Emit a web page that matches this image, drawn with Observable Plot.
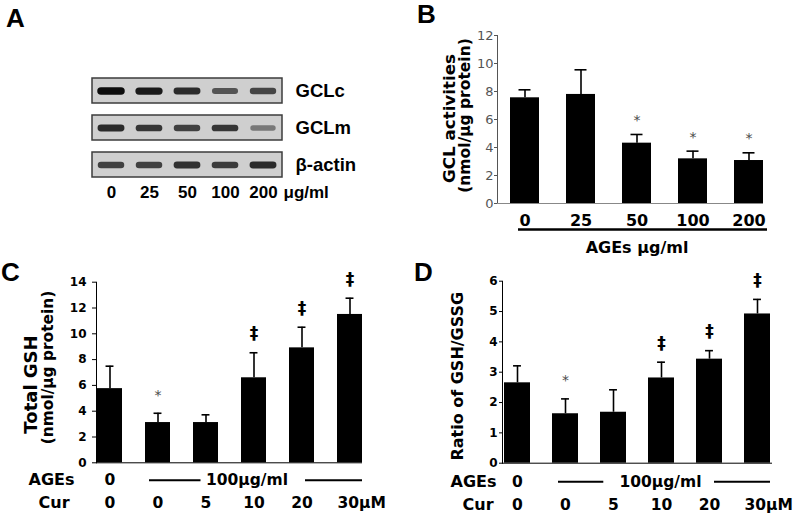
<!DOCTYPE html>
<html><head><meta charset="utf-8">
<script src="https://cdn.jsdelivr.net/npm/d3@7"></script>
<script src="https://cdn.jsdelivr.net/npm/@observablehq/plot@0.6"></script>
<style>
body{margin:0;background:#fff;}
#fig{position:relative;width:800px;height:520px;background:#fff;overflow:hidden;}
.panel{position:absolute;width:400px;height:260px;}
.letter{position:absolute;font:bold 26px "Liberation Sans",Arial,sans-serif;line-height:26px;color:#000;}
</style></head><body>
<div id="fig">
  <div class="panel" id="pA" style="left:0;top:0"></div>
  <div class="panel" id="pB" style="left:400px;top:0"></div>
  <div class="panel" id="pC" style="left:0;top:260px"></div>
  <div class="panel" id="pD" style="left:400px;top:260px"></div>
  <div class="letter" style="left:6px;top:5px">A</div>
  <div class="letter" style="left:417px;top:1px">B</div>
  <div class="letter" style="left:1px;top:259px">C</div>
  <div class="letter" style="left:414px;top:259px">D</div>
</div>
<script>
// ---------- Panel A: western blot ----------
const lanes = ["0", "25", "50", "100", "200"];
const laneUnit = "μg/ml";
const blotRows = ["GCLc", "GCLm", "β-actin"];
const gclcBand = [1.0, 0.95, 0.88, 0.72, 0.78];
const gclmBand = [0.88, 0.84, 0.80, 0.84, 0.58];
const actinBand = [0.80, 0.80, 0.86, 0.82, 0.88];

// ---------- Panel B: GCL activities ----------
const bDoses = ["0", "25", "50", "100", "200"];
const bMean = [7.55, 7.79, 4.31, 3.19, 3.07];
const bSD = [0.57, 1.76, 0.62, 0.55, 0.55];
const bSig = ["", "", "*", "*", "*"];
const bTicks = [0, 2, 4, 6, 8, 10, 12];
const bXLabel = "AGEs μg/ml";
const bYLabel = ["GCL activities", "(nmol/μg protein)"];

// ---------- Panels C, D: groups ----------
const groups = ["ctrl", "ages", "cur5", "cur10", "cur20", "cur30"];
const agesRow = ["0", "100μg/ml"];
const curRow = ["0", "0", "5", "10", "20", "30μM"];
const cMean = [5.75, 3.12, 3.12, 6.59, 8.91, 11.5];
const cSD = [1.74, 0.72, 0.60, 1.94, 1.60, 1.26];
const cSig = ["", "*", "", "‡", "‡", "‡"];
const cTicks = [0, 2, 4, 6, 8, 10, 12, 14];
const cYLabel = ["Total GSH", "(nmol/μg protein)"];
const dMean = [2.65, 1.63, 1.68, 2.81, 3.43, 4.92];
const dSD = [0.56, 0.49, 0.74, 0.52, 0.28, 0.48];
const dSig = ["", "*", "", "‡", "‡", "‡"];
const dTicks = [0, 1, 2, 3, 4, 5, 6];
const dYLabel = "Ratio of GSH/GSSG";

const FONT = "DejaVu Sans, Verdana, sans-serif";
const ARIAL = "Liberation Sans, Arial, sans-serif";

// ---- A ----
const bandData = [];
[gclcBand, gclmBand, actinBand].forEach((arr, r) =>
  arr.forEach((v, i) => bandData.push({lane: lanes[i], row: blotRows[r], v})));
const plotA = Plot.plot({
  width: 400, height: 260,
  marginLeft: 92, marginRight: 118, marginTop: 71.5, marginBottom: 77.5,
  style: {fontFamily: ARIAL, background: "white"},
  x: {domain: lanes, padding: 0, axis: null},
  y: {domain: blotRows, padding: 0, axis: null},
  color: {type: "linear", domain: [0.5, 1], range: ["#8c8c8c", "#0d0d0d"]},
  marks: [
    Plot.cell(blotRows, {y: d => d, fill: "#cfcfcf", stroke: "#3c3c3c", strokeWidth: 1.5, insetTop: 6, insetBottom: 6}),
    Plot.tickY(bandData, {x: "lane", y: "row", stroke: "v", strokeWidth: d => 2.5 + 5 * d.v,
      strokeLinecap: "round", insetLeft: 9, insetRight: 9, ariaLabel: "bands"}),
    Plot.text(blotRows, {y: d => d, text: d => d, frameAnchor: "right", textAnchor: "start", dx: 13,
      fontSize: 18.5, fontWeight: "bold", fill: "#000"}),
    Plot.text(lanes, {x: d => d, text: d => d, frameAnchor: "bottom", lineAnchor: "middle", dy: 9.5,
      fontSize: 17, fontWeight: "bold", fill: "#000"}),
    Plot.text([laneUnit], {x: () => lanes[4], text: d => d, frameAnchor: "bottom", lineAnchor: "middle", dy: 9.5, dx: 20,
      textAnchor: "start", fontSize: 17, fontWeight: "bold", fill: "#000"})
  ]
});
plotA.querySelectorAll('[aria-label="bands"]').forEach(g => g.style.filter = "blur(1.8px)");
document.getElementById("pA").appendChild(plotA);

// ---- shared bar marks ----
function barMarks(rows, capInset, starDy, daggerDy) {
  const top = d => d.mean + d.sd;
  return [
    Plot.barY(rows, {x: "g", y: "mean", fill: "#000"}),
    Plot.ruleX(rows, {x: "g", y1: "mean", y2: top, stroke: "#000", strokeWidth: 1.6}),
    Plot.tickY(rows, {x: "g", y: top, stroke: "#000", strokeWidth: 1.6, insetLeft: capInset, insetRight: capInset}),
    Plot.text(rows.filter(d => d.sig === "*"), {x: "g", y: top, text: "sig", dy: starDy,
      fontSize: 14, fontWeight: "normal", fill: "#4a4a4a"}),
    Plot.text(rows.filter(d => d.sig === "‡"), {x: "g", y: top, text: "sig", dy: daggerDy,
      fontSize: 17, fontWeight: "bold", fill: "#000"})
  ];
}

function yLabel(text, dx, dy, size) {
  return Plot.text([text], {text: d => d, frameAnchor: "left", textAnchor: "middle", lineAnchor: "middle",
    rotate: -90, dx, dy, fontSize: size, fontWeight: "bold", fill: "#000"});
}

// text below the frame, vertically centred on frame bottom + dy
function under(data, opts) {
  return Plot.text(data, {frameAnchor: "bottom", lineAnchor: "middle", fontWeight: "bold", fill: "#000", ...opts});
}

// ---- B ----
const bRows = bDoses.map((g, i) => ({g, mean: bMean[i], sd: bSD[i], sig: bSig[i]}));
const plotB = Plot.plot({
  width: 400, height: 260,
  marginLeft: 97, marginRight: 37, marginTop: 35, marginBottom: 57,
  style: {fontFamily: FONT, fontSize: "13px", color: "#555", background: "white"},
  x: {domain: bDoses, paddingInner: 0.49, paddingOuter: 0.088, align: 1, axis: null},
  y: {domain: [0, 12], ticks: bTicks, tickFormat: d => String(d), tickSize: 3, tickPadding: 1, label: null, line: true},
  marks: [
    ...barMarks(bRows, 8.5, -14, -19),
    Plot.ruleY([0], {stroke: "#888"}),
    under(bDoses, {x: d => d, text: d => d, dy: 17, fontSize: 16}),
    Plot.ruleY([0], {x1: () => bDoses[0], x2: () => bDoses[4], dy: 26, stroke: "#000",
      strokeWidth: 2.5, insetLeft: 8, insetRight: -4}),
    under([bXLabel], {x: () => bDoses[2], text: d => d, dy: 44, fontSize: 16}),
    yLabel(bYLabel[0], -48, -1, 16.7),
    yLabel(bYLabel[1], -32, -4, 15.5)
  ]
});
document.getElementById("pB").appendChild(plotB);

// ---- C & D ----
function groupPanel(el, mean, sd, sig, cfg) {
  const rows = groups.map((g, i) => ({g, mean: mean[i], sd: sd[i], sig: sig[i]}));
  const bw = cfg.bw;
  const p = Plot.plot({
    width: 400, height: 260,
    marginLeft: cfg.ml, marginRight: cfg.mr, marginTop: cfg.mt, marginBottom: cfg.mb,
    style: {fontFamily: FONT, fontSize: "12px", fontWeight: "bold", color: "#000", background: "white"},
    x: {domain: groups, paddingInner: cfg.pi, paddingOuter: 0, axis: null},
    y: {domain: cfg.domain, ticks: cfg.ticks, tickFormat: d => String(d), tickSize: cfg.ts, tickPadding: cfg.tp,
      label: null, line: true},
    marks: [
      ...barMarks(rows, (bw - 8) / 2, -18, -19),
      Plot.ruleY([0], {stroke: "#000"}),
      // AGEs row
      under(["AGEs"], {text: d => d, frameAnchor: "bottom-left", textAnchor: "start", dx: cfg.agesDx, dy: cfg.row1, fontSize: 16}),
      under([agesRow[0]], {x: () => groups[0], text: d => d, dy: cfg.row1, fontSize: 15.5}),
      Plot.ruleY([0], {x1: () => groups[1], x2: () => groups[2], dy: cfg.row1, stroke: "#000", strokeWidth: 2,
        insetLeft: cfg.l1[0], insetRight: cfg.l1[1]}),
      under([agesRow[1]], {x: () => groups[3], text: d => d, dy: cfg.row1, dx: cfg.agesTextDx, fontSize: 15.5}),
      Plot.ruleY([0], {x1: () => groups[4], x2: () => groups[5], dy: cfg.row1, stroke: "#000", strokeWidth: 2,
        insetLeft: cfg.l2[0], insetRight: cfg.l2[1]}),
      // Cur row
      under(["Cur"], {text: d => d, frameAnchor: "bottom-left", textAnchor: "start", dx: cfg.curDx, dy: cfg.row2, fontSize: 16}),
      under(groups.slice(0, 5), {x: d => d, text: (d, i) => curRow[i], dy: cfg.row2, fontSize: 15.5}),
      under([curRow[5]], {x: () => groups[5], text: d => d, textAnchor: "start", dx: -bw / 2, dy: cfg.row2, fontSize: 15.5}),
      ...cfg.ylabels
    ]
  });
  document.getElementById(el).appendChild(p);
}

groupPanel("pC", cMean, cSD, cSig, {
  ml: 96, mr: 38, mt: 21.7, mb: 57.7, pi: 0.48, bw: 25.06, domain: [0, 14], ticks: cTicks, ts: 4, tp: 6,
  agesDx: -68, curDx: -58, row1: 17.5, row2: 40, l1: [4, 17.5], l2: [16, 0], agesTextDx: -7,
  ylabels: [yLabel(cYLabel[0], -65, 12, 18), yLabel(cYLabel[1], -48, -5, 15.4)]
});

groupPanel("pD", dMean, dSD, dSig, {
  ml: 102, mr: 28, mt: 20.7, mb: 57.3, pi: 0.465, bw: 26.1, domain: [0, 6], ticks: dTicks, ts: 3, tp: 2,
  agesDx: -52, curDx: -40, row1: 18.5, row2: 41.5, l1: [6, 22.7], l2: [18, 0], agesTextDx: -1,
  ylabels: [yLabel(dYLabel, -45, 4, 16)]
});
</script>
</body></html>
